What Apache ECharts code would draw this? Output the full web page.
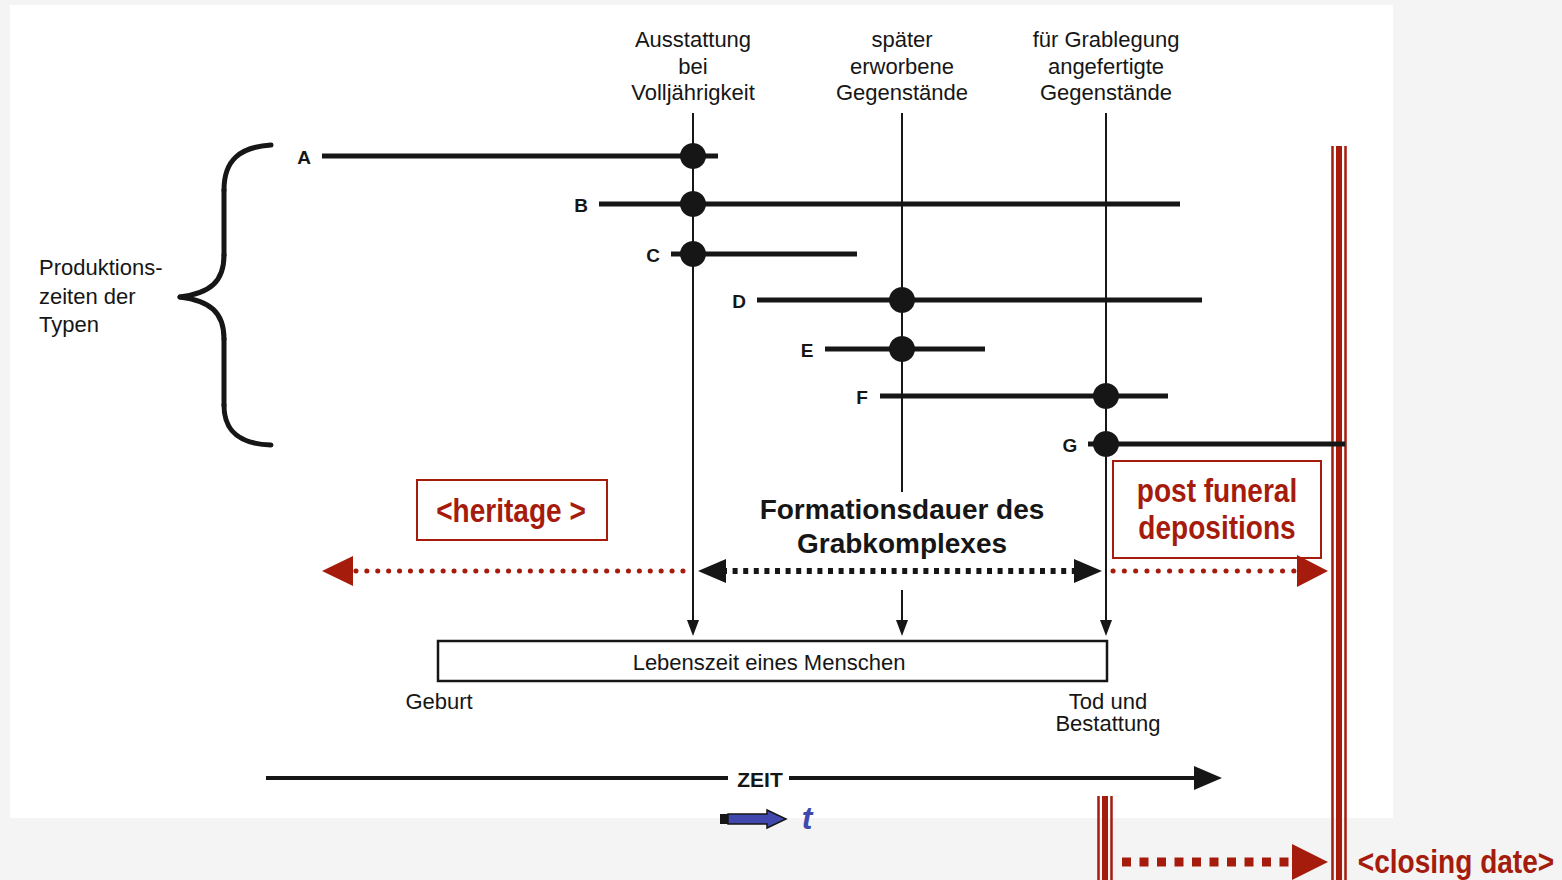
<!DOCTYPE html>
<html>
<head>
<meta charset="utf-8">
<title>Formationsdauer des Grabkomplexes</title>
<script src="https://cdn.jsdelivr.net/npm/echarts@6/dist/echarts.min.js"></script>
<style>
  html, body { margin: 0; padding: 0; background: #f4f4f4; }
  #chart { width: 1562px; height: 880px; }
</style>
</head>
<body>
<div id="chart"></div>
<script>
// Produktionszeiten der Typen (x = Zeit, y = Zeile)
const typeNames = ["A", "B", "C", "D", "E", "F", "G"];
const typeStart = [322, 599, 671, 757, 825, 880, 1088];
const typeEnd = [718, 1180, 857, 1202, 985, 1168, 1345];
const typeDot = [693, 693, 693, 902, 902, 1106, 1106];
const typeRow = [156, 204, 254, 300, 349, 396, 444];

// Zeitpunkte im Leben
const stageX = [693, 902, 1106];
const stageLabels = [
  "Ausstattung\nbei\nVolljährigkeit",
  "später\nerworbene\nGegenstände",
  "für Grablegung\nangefertigte\nGegenstände",
];

// Lebenszeit, Zeitachse
const lifeSpan = [438, 1107];
const zeitSpan = [266, 1222];

// Perioden (Start, Spitze)
const heritage = [683, 322];
const formation = [698, 1102];
const postFuneral = [1113, 1328];
const closingDate = [1122, 1328];

// rote Markierungen: Bestattung, closing date
const markerX = [1105, 1339];
const markerTop = [796, 146];

const INK = "#161616";
const RED = "#a61c0c";
const SANS = "'Liberation Sans', Arial, sans-serif";

const chart = echarts.init(document.getElementById("chart"), null, { renderer: "svg" });

function arrowHead(tip, dir, len, half, color) {
  const bx = tip[0] - dir[0] * len;
  const by = tip[1] - dir[1] * len;
  return {
    type: "polygon",
    shape: {
      points: [tip, [bx - dir[1] * half, by + dir[0] * half], [bx + dir[1] * half, by - dir[0] * half]],
    },
    style: { fill: color },
  };
}

function line(a, b, style) {
  return { type: "line", shape: { x1: a[0], y1: a[1], x2: b[0], y2: b[1] }, style: style };
}

function text(p, str, font, color, lineHeight) {
  return {
    type: "text",
    x: p[0],
    y: p[1],
    style: {
      text: str,
      font: font,
      fill: color || INK,
      align: "center",
      verticalAlign: "middle",
      lineHeight: lineHeight,
    },
  };
}

// rote, schmale Schrift (Condensed nachgebildet)
function redText(p, str, lineHeight) {
  const t = text(p, str, "bold 33px " + SANS, RED, lineHeight);
  t.scaleX = 0.85;
  return t;
}

function single(render) {
  return {
    type: "custom",
    coordinateSystem: "cartesian2d",
    clip: false,
    silent: true,
    data: [[0, 0]],
    renderItem: render,
  };
}

chart.setOption({
  animation: false,
  backgroundColor: "#f4f4f4",
  grid: { left: 0, right: 0, top: 0, bottom: 0 },
  xAxis: { type: "value", min: 0, max: 1562, show: false },
  yAxis: { type: "value", min: 0, max: 880, inverse: true, show: false },
  series: [
    // weisses Blatt
    single(function (params, api) {
      const a = api.coord([10, 5]);
      const b = api.coord([1393, 818]);
      return { type: "rect", shape: { x: a[0], y: a[1], width: b[0] - a[0], height: b[1] - a[1] }, style: { fill: "#fff" } };
    }),
    // Spalten-Ueberschriften und senkrechte Linien
    {
      type: "custom",
      coordinateSystem: "cartesian2d",
      clip: false,
      silent: true,
      data: stageX.map((x) => [x, 0]),
      renderItem: function (params, api) {
        const i = params.dataIndex;
        const x = stageX[i];
        const kids = [text(api.coord([x, 66]), stageLabels[i], "22px " + SANS, INK, 26.5)];
        const segs = i === 1 ? [[113, 492], [590, 622]] : [[113, 622]];
        segs.forEach((s) => kids.push(line(api.coord([x, s[0]]), api.coord([x, s[1]]), { stroke: INK, lineWidth: 2 })));
        kids.push(arrowHead(api.coord([x, 636]), [0, 1], 16, 6, INK));
        return { type: "group", children: kids };
      },
    },
    // Geschweifte Klammer und Beschriftung
    single(function (params, api) {
      const c = (x, y) => api.coord([x, y]);
      const st = { stroke: INK, lineWidth: 5, fill: null, lineCap: "round" };
      const bez = (p0, p1, p2, p3) => {
        const a = c(...p0), b = c(...p1), d = c(...p2), e = c(...p3);
        return { type: "bezierCurve", shape: { x1: a[0], y1: a[1], cpx1: b[0], cpy1: b[1], cpx2: d[0], cpy2: d[1], x2: e[0], y2: e[1] }, style: st };
      };
      const t = c(39, 296);
      return {
        type: "group",
        children: [
          bez([271, 145], [240, 147], [224, 160], [224, 190]),
          line(c(224, 190), c(224, 255), st),
          bez([224, 255], [224, 282], [210, 293], [180, 297]),
          bez([180, 297], [210, 301], [224, 312], [224, 339]),
          line(c(224, 339), c(224, 405), st),
          bez([224, 405], [224, 432], [240, 444], [271, 445]),
          {
            type: "text",
            x: t[0],
            y: t[1],
            style: { text: "Produktions-\nzeiten der\nTypen", font: "22px " + SANS, fill: INK, align: "left", verticalAlign: "middle", lineHeight: 28.5 },
          },
        ],
      };
    }),
    // rote Markierungen (dreifache Linien)
    {
      type: "custom",
      coordinateSystem: "cartesian2d",
      clip: false,
      silent: true,
      data: markerX.map((x, i) => [x, markerTop[i]]),
      renderItem: function (params, api) {
        const i = params.dataIndex;
        const x = markerX[i];
        const top = api.coord([x, markerTop[i]])[1];
        const bot = api.coord([x, 880])[1];
        const px = api.coord([x, 0])[0];
        const bar = (dx, w) => ({ type: "rect", shape: { x: px + dx - w / 2, y: top, width: w, height: bot - top }, style: { fill: RED } });
        return { type: "group", children: [bar(-6.5, 2.5), bar(0, 6), bar(6.5, 2.5)] };
      },
    },
    // Produktionszeiten A-G
    {
      type: "custom",
      coordinateSystem: "cartesian2d",
      clip: false,
      silent: true,
      data: typeRow.map((y, i) => [typeDot[i], y]),
      renderItem: function (params, api) {
        const i = params.dataIndex;
        const a = api.coord([typeStart[i], typeRow[i]]);
        const b = api.coord([typeEnd[i], typeRow[i]]);
        const d = api.coord([typeDot[i], typeRow[i]]);
        return {
          type: "group",
          children: [
            line(a, b, { stroke: INK, lineWidth: 5 }),
            { type: "circle", shape: { cx: d[0], cy: d[1], r: 13 }, style: { fill: INK } },
            text([a[0] - 18, a[1] + 1], typeNames[i], "bold 19px " + SANS),
          ],
        };
      },
    },
    // Perioden-Pfeile und Boxen
    single(function (params, api) {
      const c = (x, y) => api.coord([x, y]);
      const y = 571;
      const kids = [];
      // heritage
      kids.push(line(c(heritage[0], y), c(heritage[1] + 28, y), { stroke: RED, lineWidth: 5, lineDash: [0.1, 10.8], lineCap: "round" }));
      kids.push(arrowHead(c(heritage[1], y), [-1, 0], 31, 15, RED));
      // Formationsdauer
      kids.push(line(c(formation[0] + 24, y), c(formation[1] - 24, y), { stroke: INK, lineWidth: 6, lineDash: [5, 5.6] }));
      kids.push(arrowHead(c(formation[0], y), [-1, 0], 28, 12, INK));
      kids.push(arrowHead(c(formation[1], y), [1, 0], 28, 12, INK));
      // post funeral
      kids.push(line(c(postFuneral[0], y), c(postFuneral[1] - 28, y), { stroke: RED, lineWidth: 5, lineDash: [0.1, 11.2], lineCap: "round" }));
      kids.push(arrowHead(c(postFuneral[1], y), [1, 0], 31, 16, RED));
      // closing date
      const yb = 862;
      kids.push(line(c(closingDate[0], yb), c(closingDate[1] - 34, yb), { stroke: RED, lineWidth: 9, lineDash: [9, 8.5] }));
      kids.push(arrowHead(c(closingDate[1], yb), [1, 0], 36, 18, RED));
      // Boxen
      const box = (x1, y1, x2, y2, color, w) => {
        const a = c(x1, y1), b = c(x2, y2);
        return { type: "rect", shape: { x: a[0], y: a[1], width: b[0] - a[0], height: b[1] - a[1] }, style: { fill: "none", stroke: color, lineWidth: w } };
      };
      kids.push(box(417, 480, 607, 540, RED, 2));
      kids.push(box(1113, 461, 1321, 558, RED, 2));
      kids.push(redText(c(511, 510), "<heritage >"));
      kids.push(redText(c(1217, 509), "post funeral\ndepositions", 37));
      kids.push(redText(c(1456, 861), "<closing date>"));
      kids.push(text(c(902, 526), "Formationsdauer des\nGrabkomplexes", "bold 28px " + SANS, INK, 34));
      return { type: "group", children: kids };
    }),
    // Lebenszeit, Zeitachse
    single(function (params, api) {
      const c = (x, y) => api.coord([x, y]);
      const a = c(lifeSpan[0], 641), b = c(lifeSpan[1], 681);
      const kids = [
        { type: "rect", shape: { x: a[0], y: a[1], width: b[0] - a[0], height: b[1] - a[1] }, style: { fill: "none", stroke: INK, lineWidth: 2.5 } },
        text(c(769, 662), "Lebenszeit eines Menschen", "22px " + SANS),
        text(c(lifeSpan[0] + 1, 701), "Geburt", "22px " + SANS),
        text(c(lifeSpan[1] + 1, 712), "Tod und\nBestattung", "22px " + SANS, INK, 22),
        line(c(zeitSpan[0], 778), c(728, 778), { stroke: INK, lineWidth: 4 }),
        line(c(789, 778), c(zeitSpan[1] - 26, 778), { stroke: INK, lineWidth: 4 }),
        arrowHead(c(zeitSpan[1], 778), [1, 0], 28, 12, INK),
        text(c(760, 779), "ZEIT", "bold 21px " + SANS),
      ];
      // blauer Pfeil t
      kids.push({ type: "rect", shape: { x: c(720, 814)[0], y: c(720, 814)[1], width: 8, height: 10 }, style: { fill: INK } });
      kids.push({
        type: "polygon",
        shape: { points: [c(728, 814), c(767, 814), c(767, 810), c(786, 819), c(767, 828), c(767, 824), c(728, 824)] },
        style: { fill: "#4048ad", stroke: INK, lineWidth: 1.5 },
      });
      kids.push(text(c(807, 818), "t", "italic bold 32px " + SANS, "#4048ad"));
      return { type: "group", children: kids };
    }),
  ],
});
</script>
</body>
</html>
